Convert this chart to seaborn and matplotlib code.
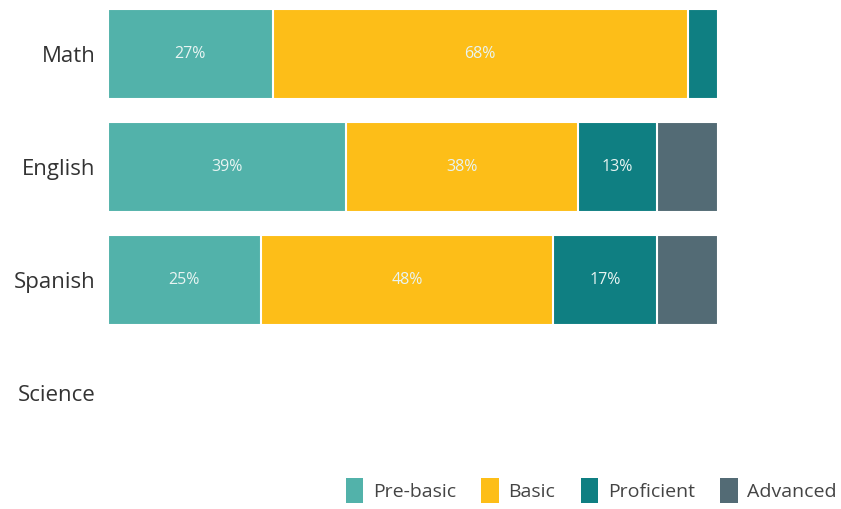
import matplotlib
matplotlib.use("Agg")
import matplotlib.pyplot as plt
import seaborn as sns
import numpy as np
import pandas as pd
from matplotlib.patches import Patch

subjects = ["Math", "English", "Spanish", "Science"]
levels = ["Pre-basic", "Basic", "Proficient", "Advanced"]
pre_basic = [27, 39, 25, np.nan]
basic = [68, 38, 48, np.nan]
proficient = [5, 13, 17, np.nan]
advanced = [0, 10, 10, np.nan]
colors = ["#52B2AA", "#FDBE18", "#0F7F82", "#536B75"]

sns.set_theme(style="white")
plt.rcParams["font.family"] = ["Open Sans", "DejaVu Sans"]

df = pd.DataFrame({"subject": subjects, "Pre-basic": pre_basic, "Basic": basic,
                   "Proficient": proficient, "Advanced": advanced})
series = [df[l].to_numpy(dtype=float) for l in levels]
cum = np.cumsum(np.vstack(series), axis=0)
starts = cum - np.vstack(series)

fig = plt.figure(figsize=(8.41, 5.09), dpi=100)
ax = fig.add_axes([108/841, 1 - 449.5/509, 610/841, 452/509])

for i in reversed(range(len(levels))):
    d = pd.DataFrame({"subject": subjects, "end": cum[i]})
    sns.barplot(data=d, x="end", y="subject", order=subjects, color=colors[i],
                orient="h", width=0.8, edgecolor="white", linewidth=1.5,
                saturation=1, ax=ax)

for i, l in enumerate(levels):
    vals = series[i]
    for j, v in enumerate(vals):
        if np.isnan(v) or v <= 10:
            continue
        ax.text(starts[i][j] + v / 2, j, f"{int(v)}%", ha="center", va="center",
                color="#E8F4F2", fontsize=11.5)

ax.set_xlim(0, 100)
ax.set_ylim(3.5, -0.5)
ax.set_xlabel("")
ax.set_ylabel("")
ax.set_xticks([])
ax.tick_params(axis="y", length=0, labelsize=16, labelcolor="#333333", pad=9)
sns.despine(ax=ax, left=True, bottom=True)

handles = [Patch(facecolor=c, edgecolor="none", label=l) for c, l in zip(colors, levels)]
fig.legend(handles=handles, loc="lower right", bbox_to_anchor=(1.016, -0.022), ncol=4,
           frameon=False, fontsize=14, handlelength=0.9, handleheight=1.6,
           handletextpad=0.5, columnspacing=1.3, labelcolor="#444444")

fig.savefig("out.png", dpi=100)
